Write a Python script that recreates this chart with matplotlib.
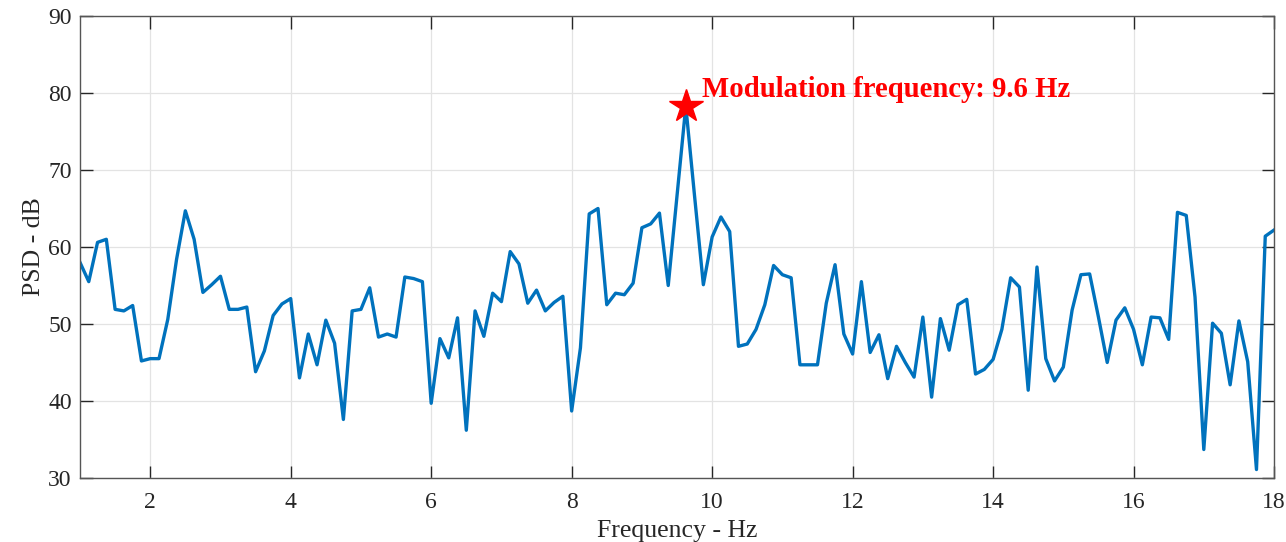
import numpy as np
import matplotlib
matplotlib.use("Agg")
import matplotlib.pyplot as plt

# PSD, 0.125 Hz steps from 1 to 18 Hz
f_start = 1.0
f_step = 0.125
psd_db = [
    58.0, 55.5, 60.6, 61.0, 51.9, 51.7, 52.4, 45.2, 45.5, 45.5,
    50.6, 58.4, 64.7, 61.0, 54.1, 55.1, 56.2, 51.9, 51.9, 52.2,
    43.8, 46.5, 51.1, 52.6, 53.3, 43.0, 48.7, 44.7, 50.5, 47.5,
    37.6, 51.7, 51.9, 54.7, 48.3, 48.7, 48.3, 56.1, 55.9, 55.5,
    39.7, 48.1, 45.6, 50.8, 36.2, 51.7, 48.4, 54.0, 52.9, 59.4,
    57.8, 52.7, 54.4, 51.7, 52.8, 53.6, 38.7, 46.9, 64.3, 65.0,
    52.5, 54.0, 53.8, 55.3, 62.5, 63.0, 64.4, 55.0, 66.6, 78.3,
    66.6, 55.1, 61.3, 63.9, 62.0, 47.1, 47.4, 49.3, 52.5, 57.6,
    56.4, 56.0, 44.7, 44.7, 44.7, 52.7, 57.7, 48.7, 46.1, 55.5,
    46.3, 48.6, 42.9, 47.1, 45.0, 43.1, 50.9, 40.5, 50.7, 46.6,
    52.5, 53.2, 43.5, 44.1, 45.4, 49.3, 56.0, 54.8, 41.4, 57.4,
    45.5, 42.6, 44.4, 51.8, 56.4, 56.5, 50.9, 45.0, 50.5, 52.1,
    49.3, 44.7, 50.9, 50.8, 48.0, 64.5, 64.1, 53.5, 33.7, 50.1,
    48.8, 42.1, 50.4, 45.1, 31.1, 61.4, 62.2,
]
freq = f_start + f_step * np.arange(len(psd_db))

mod_label = "Modulation frequency: 9.6 Hz"

x_ticks = [2, 4, 6, 8, 10, 12, 14, 16, 18]
y_ticks = [30, 40, 50, 60, 70, 80, 90]

plt.rcParams['font.family'] = ['Liberation Serif', 'DejaVu Serif']
txt = '#262626'

fig = plt.figure(figsize=(12.86, 5.42), dpi=100)
ax = fig.add_axes([0.0622, 0.1181, 0.9285, 0.8524])

ax.plot(freq, psd_db, color='#0072BD', lw=2.4)

# star on the highest point
k = int(np.argmax(psd_db))
ax.plot(freq[k], psd_db[k], marker='*', ms=25, color='#FF0000', mec='#FF0000')
ax.text(freq[k] + 0.23, psd_db[k] + 1.2, mod_label, color='#FF0000',
        fontsize=20.7, fontweight='bold', va='baseline', ha='left')

ax.set_xlim(1, 18)
ax.set_ylim(30, 90)
ax.set_xticks(x_ticks)
ax.set_yticks(y_ticks)
ax.grid(True, color='#e3e3e3', lw=0.9)
ax.set_axisbelow(True)
ax.tick_params(direction='in', length=9, width=1, colors=txt, labelsize=17,
               top=True, right=True)
ax.tick_params(axis='x', pad=10)
ax.tick_params(axis='y', pad=6)
for s in ax.spines.values():
    s.set_color('#555555')
    s.set_linewidth(1.0)

ax.set_xlabel('Frequency - Hz', fontsize=18.5, color=txt, labelpad=5)
ax.set_ylabel('PSD - dB', fontsize=18.5, color=txt, labelpad=2)

fig.savefig('out.png', dpi=100)
